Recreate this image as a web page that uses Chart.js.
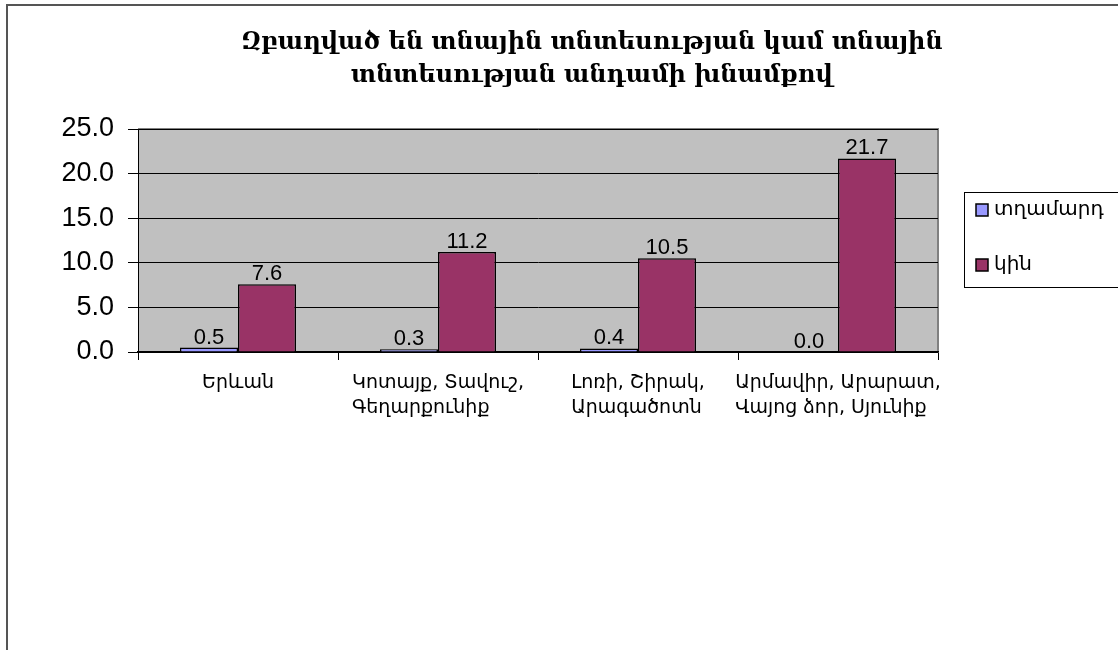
<!DOCTYPE html>
<html>
<head>
<meta charset="utf-8">
<script src="https://cdn.jsdelivr.net/npm/chart.js@4.4.1/dist/chart.umd.min.js"></script>
<style>
    html, body { margin: 0; padding: 0; background: #fff; }
    #wrap { position: relative; width: 1118px; height: 650px; }
    #frame {
        position: absolute; left: 6px; top: 4px; width: 1200px; height: 700px;
        border-left: 2px solid #555; border-top: 2px solid #555;
    }
    canvas { position: absolute; left: 0; top: 0; }
</style>
</head>
<body>
<div id="wrap">
    <div id="frame"></div>
    <canvas id="chart" width="1118" height="650"></canvas>
</div>
<script>
const titleLines = ["Զբաղված են տնային տնտեսության կամ տնային", "տնտեսության անդամի խնամքով"];
const categories = [
    ["Երևան"],
    ["Կոտայք, Տավուշ,", "Գեղարքունիք"],
    ["Լոռի, Շիրակ,", "Արագածոտն"],
    ["Արմավիր, Արարատ,", "Վայոց ձոր, Սյունիք"]
];
const seriesNames = ["տղամարդ", "կին"];
const menValues = [0.5, 0.3, 0.4, 0.0];
const womenValues = [7.6, 11.2, 10.5, 21.7];
const colors = ["#9999ff", "#993366"];

const armSans = "'DejaVu Sans', 'Noto Sans', sans-serif";

// gray plot background + border
const plotBg = {
    id: "plotBg",
    beforeDraw(chart) {
        const { ctx, chartArea: a } = chart;
        ctx.save();
        ctx.fillStyle = "#c0c0c0";
        ctx.fillRect(a.left, a.top, a.right - a.left, a.bottom - a.top);
        ctx.strokeStyle = "#808080";
        ctx.lineWidth = 2;
        ctx.beginPath();
        ctx.moveTo(a.left, a.top);
        ctx.lineTo(a.right, a.top);
        ctx.lineTo(a.right, a.bottom);
        ctx.stroke();
        ctx.restore();
    }
};

// title, category labels, value labels, legend box
const extras = {
    id: "extras",
    afterDraw(chart) {
        const ctx = chart.ctx;
        ctx.save();
        ctx.fillStyle = "#000";
        ctx.textAlign = "center";
        ctx.textBaseline = "middle";
        ctx.font = "bold 24px 'DejaVu Serif', serif";
        titleLines.forEach((t, i) => ctx.fillText(t, 592, 43 + i * 33));

        // category labels, left aligned block centred on the category
        const xs = chart.scales.x;
        ctx.font = "19px " + armSans;
        ctx.textAlign = "left";
        chart.data.labels.forEach((lines, i) => {
            const cx = xs.getPixelForValue(i);
            const w = Math.max(...lines.map(l => ctx.measureText(l).width));
            lines.forEach((l, j) => ctx.fillText(l, cx - w / 2, 383 + j * 25));
        });

        ctx.textAlign = "center";
        ctx.font = "22px 'Liberation Sans', Arial, sans-serif";
        ctx.textBaseline = "alphabetic";
        chart.data.datasets.forEach((ds, di) => {
            chart.getDatasetMeta(di).data.forEach((bar, i) => {
                ctx.fillText(ds.data[i].toFixed(1), bar.x, bar.y - 4);
            });
        });

        // legend
        ctx.strokeStyle = "#000";
        ctx.lineWidth = 1;
        ctx.strokeRect(964.5, 192.5, 170, 95);
        ctx.textAlign = "left";
        ctx.textBaseline = "middle";
        ctx.font = "20px " + armSans;
        chart.data.datasets.forEach((ds, di) => {
            const y = 210 + di * 55;
            ctx.fillStyle = ds.backgroundColor;
            ctx.fillRect(976, y - 6, 12, 12);
            ctx.lineWidth = 1.5;
            ctx.strokeRect(976, y - 6, 12, 12);
            ctx.fillStyle = "#000";
            ctx.fillText(ds.label, 994, y);
        });
        ctx.restore();
    }
};

new Chart(document.getElementById("chart"), {
    type: "bar",
    data: {
        labels: categories,
        datasets: [
            { label: seriesNames[0], data: menValues, backgroundColor: colors[0], borderColor: "#000", borderWidth: 1.5 },
            { label: seriesNames[1], data: womenValues, backgroundColor: colors[1], borderColor: "#000", borderWidth: 1.5 }
        ]
    },
    options: {
        responsive: false,
        animation: false,
        layout: { padding: { left: 0, top: 129, right: 180, bottom: 0 } },
        plugins: { legend: { display: false }, title: { display: false }, tooltip: { enabled: false } },
        datasets: { bar: { categoryPercentage: 0.58, barPercentage: 1.0 } },
        scales: {
            x: {
                afterFit(scale) { scale.height = 298; },
                grid: { offset: true, drawOnChartArea: false, color: "#000", tickLength: 8, lineWidth: 1 },
                border: { color: "#000", width: 1.5 },
                ticks: { display: false }
            },
            y: {
                min: 0,
                max: 25,
                afterFit(scale) { scale.width = 138; },
                grid: { color: "#000", tickLength: 10, lineWidth: 1 },
                border: { color: "#000", width: 1 },
                ticks: {
                    stepSize: 5,
                    color: "#000",
                    padding: 14,
                    font: { family: "'Liberation Sans', Arial, sans-serif", size: 27 },
                    callback: v => v.toFixed(1)
                }
            }
        }
    },
    plugins: [plotBg, extras]
});
</script>
</body>
</html>
